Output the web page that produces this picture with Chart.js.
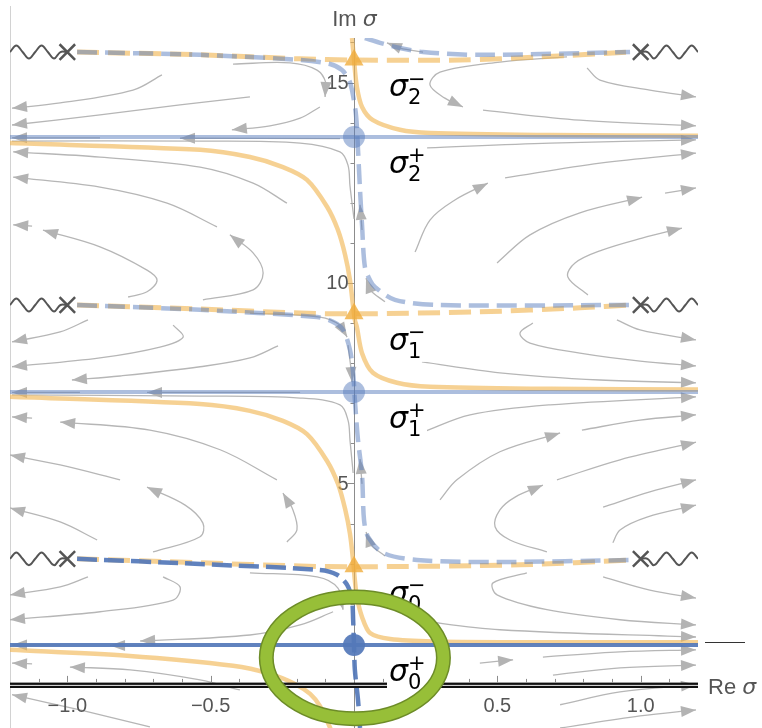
<!DOCTYPE html>
<html>
<head>
<meta charset="utf-8">
<script src="https://cdn.jsdelivr.net/npm/chart.js@4.4.0/dist/chart.umd.min.js"></script>
<style>
  html, body { margin: 0; padding: 0; background: #fff; }
  #wrap { width: 762px; height: 728px; }
</style>
</head>
<body>
<div id="wrap"><canvas id="flow" width="762" height="728"></canvas></div>
<script>
// axis ranges and ticks
const X_RANGE = [-1.2, 1.2];
const Y_RANGE = [-1.1, 16.11];
const X_TICKS = [-1.0, -0.5, 0.5, 1.0];
const X_TICK_LABELS = ['\u22121.0', '\u22120.5', '0.5', '1.0'];
const X_MINOR = [-1.1, -0.9, -0.8, -0.7, -0.6, -0.4, -0.3, -0.2, -0.1, 0.1, 0.2, 0.3, 0.4, 0.6, 0.7, 0.8, 0.9, 1.1];
const Y_TICKS = [5, 10, 15];
const Y_MINOR = [1, 2, 3, 4, 6, 7, 8, 9, 11, 12, 13, 14, 16];

// critical points on the imaginary axis and branch points
const SIGMA_PLUS = [0.97, 7.28, 13.64];
const SIGMA_MINUS = [2.92, 9.23, 15.56];
const BRANCH_IM = [3.12, 9.45, 15.76];
const BRANCH_RE = [-1.0, 1.0];
// branch cut wiggle (offsets from the branch point, left side)
const WIGGLE_DX = [-0.2, -0.178, -0.156, -0.134, -0.112, -0.09, -0.068, -0.046, -0.024, 0];
const WIGGLE_DY = [0, 0.16, 0, -0.16, 0, 0.16, 0, -0.16, 0, 0];

// steepest descent (orange) curves
const ORANGE_3 = [[-0.007, 16.11], [-0.003, 15.81], [0, 15.56], [0.010, 14.89], [0.028, 14.39], [0.066, 14.06], [0.160, 13.82], [0.265, 13.74], [0.684, 13.69], [1.2, 13.67]];
const ORANGE_2 = [[-1.2, 13.49], [-0.537, 13.32], [-0.363, 13.14], [-0.248, 12.89], [-0.164, 12.57], [-0.094, 11.90], [-0.056, 11.32], [-0.031, 10.70], [-0.014, 10.07], [-0.003, 9.40], [0.003, 9.08], [0.010, 8.90], [0.028, 8.25], [0.066, 7.76], [0.150, 7.51], [0.265, 7.41], [0.684, 7.36], [1.2, 7.34]];
const ORANGE_1 = [[-1.2, 7.16], [-0.537, 6.98], [-0.363, 6.81], [-0.248, 6.56], [-0.164, 6.23], [-0.094, 5.56], [-0.056, 4.99], [-0.031, 4.36], [-0.014, 3.74], [-0.003, 3.07], [0.003, 2.59], [0.010, 2.17], [0.028, 1.67], [0.056, 1.27], [0.126, 1.12], [0.276, 1.06], [0.684, 1.04], [1.2, 1.04]];
const ORANGE_0 = [[-1.2, 0.85], [-0.792, 0.70], [-0.422, 0.45], [-0.293, 0.25], [-0.206, 0], [-0.153, -0.25], [-0.119, -0.55], [-0.091, -0.97], [-0.073, -1.27]];

// orange dashed curves through sigma minus
const ODASH_2 = [[-0.966, 15.76], [-0.537, 15.69], [-0.188, 15.59], [0, 15.56], [0.370, 15.56], [0.649, 15.64], [0.963, 15.76]];
const ODASH_1 = [[-0.966, 9.45], [-0.537, 9.35], [-0.188, 9.25], [0, 9.23], [0.439, 9.28], [0.788, 9.38], [0.963, 9.45]];
const ODASH_0 = [[-0.966, 3.12], [-0.537, 3.02], [-0.188, 2.94], [0, 2.92], [0.579, 2.97], [0.963, 3.09]];

// blue dashed curves through sigma plus
const BDASH_TOP = [[0.038, 16.11], [0.091, 15.99], [0.160, 15.86], [0.241, 15.76], [0.439, 15.69], [0.963, 15.76]];
const BDASH_2 = [[-0.966, 15.76], [-0.537, 15.69], [-0.188, 15.56], [-0.084, 15.46], [-0.042, 15.31], [-0.017, 15.06], [-0.007, 14.81], [0.007, 14.19], [0.014, 13.32], [0.021, 12.32], [0.028, 11.45], [0.038, 10.40], [0.056, 10.07], [0.073, 9.90], [0.143, 9.58], [0.293, 9.45], [0.963, 9.45]];
const BDASH_1 = [[-0.966, 9.45], [-0.537, 9.33], [-0.129, 9.15], [-0.073, 9.03], [-0.038, 8.83], [-0.014, 8.33], [-0.003, 7.76], [0.003, 7.08], [0.014, 6.08], [0.028, 5.21], [0.035, 4.09], [0.049, 3.67], [0.101, 3.27], [0.220, 3.09], [0.509, 3.04], [0.963, 3.09]];
const BDASH_0 = [[-0.966, 3.12], [-0.537, 2.99], [-0.119, 2.84], [-0.059, 2.72], [-0.024, 2.47], [-0.007, 2.09], [-0.003, 1.60], [0, 0.97], [0.003, 0.35], [0.014, -0.40], [0.021, -1.10]];

// flow lines (gray), each ends with an arrow head
const STREAM_LEFT_2 = [
  [[-0.670, 15.19], [-0.771, 14.81], [-1.025, 14.49], [-1.193, 14.36]],
  [[-0.363, 14.64], [-0.607, 14.44], [-0.886, 14.19], [-1.193, 13.94]],
  [[-0.422, 15.46], [-0.223, 15.49], [-0.129, 15.31], [-0.098, 14.99], [-0.101, 14.64]],
  [[-0.119, 14.39], [-0.188, 14.11], [-0.293, 13.92], [-0.426, 13.82]],
  [[-0.049, 13.60], [-0.607, 13.61]],
  [[-0.886, 13.62], [-1.193, 13.62]],
  [[-0.234, 11.99], [-0.352, 12.49], [-0.537, 12.89], [-0.886, 13.14], [-1.189, 13.27]],
  [[-0.478, 11.40], [-0.652, 11.99], [-0.886, 12.39], [-1.189, 12.64]],
  [[-1.123, 11.42], [-1.189, 11.45]],
  [[-0.788, 9.65], [-0.722, 9.78], [-0.687, 10.07], [-0.722, 10.32], [-0.886, 10.90], [-1.085, 11.32]],
  [[-0.527, 9.58], [-0.352, 9.83], [-0.317, 10.25], [-0.352, 10.75], [-0.433, 11.20]]
];
const STREAM_LEFT_1 = [
  [[-0.928, 9.08], [-1.025, 8.78], [-1.193, 8.53]],
  [[-0.631, 8.95], [-0.596, 8.65], [-0.677, 8.40], [-0.886, 8.13], [-1.193, 7.91]],
  [[-0.265, 8.43], [-0.363, 8.13], [-0.537, 7.91], [-0.816, 7.68], [-0.984, 7.58]],
  [[-0.363, 9.25], [-0.119, 9.15], [-0.049, 8.95], [-0.024, 8.65]],
  [[-0.021, 8.45], [-0.010, 7.83], [-0.007, 7.53]],
  [[-0.188, 7.27], [-0.722, 7.27]],
  [[-0.956, 7.27], [-1.193, 7.27]],
  [[-1.123, 6.63], [-1.193, 6.66]],
  [[-0.269, 5.09], [-0.467, 5.84], [-0.712, 6.33], [-1.025, 6.53]],
  [[-0.816, 5.09], [-1.025, 5.46], [-1.2, 5.71]],
  [[-0.896, 3.59], [-1.025, 4.04], [-1.2, 4.39]],
  [[-0.701, 3.29], [-0.537, 3.67], [-0.527, 4.01], [-0.589, 4.46], [-0.722, 4.91]],
  [[-0.234, 3.54], [-0.199, 3.84], [-0.213, 4.34], [-0.248, 4.76]]
];
const STREAM_LEFT_0 = [
  [[-0.928, 2.67], [-1.025, 2.42], [-1.2, 2.22]],
  [[-0.666, 2.67], [-0.607, 2.42], [-0.631, 2.09], [-0.886, 1.80], [-1.2, 1.60]],
  [[-0.073, 1.80], [-0.188, 1.47], [-0.363, 1.22], [-0.746, 1.07]],
  [[-0.363, 2.77], [-0.129, 2.67], [-0.056, 2.39], [-0.038, 1.85]],
  [[-0.677, 0.96], [-0.851, 0.96]],
  [[-1.025, 0.97], [-1.193, 0.97]],
  [[-1.123, 0.50], [-1.193, 0.52]],
  [[-0.398, -0.15], [-0.537, 0.10], [-0.781, 0.35], [-0.991, 0.42]],
  [[-0.712, -1.07], [-0.956, -0.65], [-1.193, -0.27]]
];
const STREAM_RIGHT_2 = [
  [[0.241, 15.76], [0.160, 15.86], [0.115, 15.99]],
  [[0.743, 15.64], [0.509, 15.51], [0.300, 15.26], [0.265, 14.94], [0.317, 14.61], [0.380, 14.39]],
  [[0.813, 15.36], [0.858, 15.06], [1.032, 14.81], [1.193, 14.64]],
  [[0.450, 14.31], [0.788, 14.06], [1.193, 13.92]],
  [[0.255, 13.37], [0.684, 13.49], [1.193, 13.57]],
  [[0.527, 12.62], [0.858, 12.99], [1.193, 13.24]],
  [[0.213, 10.77], [0.265, 11.57], [0.352, 12.07], [0.467, 12.49]],
  [[0.499, 10.50], [0.614, 11.20], [0.788, 11.75], [1.005, 12.14]],
  [[1.085, 12.24], [1.193, 12.37]],
  [[0.816, 9.70], [0.746, 10.15], [0.771, 10.50], [0.865, 10.82], [1.005, 11.12], [1.144, 11.37]],
  [[0.108, 9.53], [0.056, 9.83], [0.042, 10.12]],
  [[0.028, 11.32], [0.021, 11.95]]
];
const STREAM_RIGHT_1 = [
  [[0.624, 9.00], [0.579, 8.75], [0.614, 8.50], [0.788, 8.25], [0.998, 8.05], [1.193, 7.93]],
  [[0.917, 9.08], [0.998, 8.83], [1.193, 8.58]],
  [[0.237, 8.03], [0.509, 7.76], [0.858, 7.58], [1.193, 7.51]],
  [[0.241, 6.28], [0.405, 6.71], [0.684, 6.96], [1.193, 7.16]],
  [[0.795, 6.33], [0.998, 6.58], [1.193, 6.71]],
  [[0.300, 4.59], [0.359, 5.09], [0.509, 5.79], [0.719, 6.26]],
  [[0.708, 5.09], [0.928, 5.59], [1.193, 6.03]],
  [[0.673, 3.29], [0.544, 3.59], [0.492, 3.92], [0.509, 4.34], [0.562, 4.66], [0.659, 4.96]],
  [[0.869, 4.41], [1.032, 4.79], [1.193, 5.09]],
  [[0.903, 3.52], [0.928, 3.84], [1.022, 4.16], [1.193, 4.46]],
  [[0.108, 3.19], [0.056, 3.49], [0.042, 3.79]],
  [[0.028, 4.99], [0.021, 5.61]]
];
const STREAM_RIGHT_0 = [
  [[0.869, 2.67], [1.032, 2.34], [1.193, 2.14]],
  [[0.603, 2.77], [0.485, 2.52], [0.499, 2.22], [0.673, 1.85], [0.928, 1.60], [1.193, 1.47]],
  [[0.206, 1.60], [0.509, 1.35], [1.193, 1.17]],
  [[0.659, 0.67], [0.928, 0.80], [1.193, 0.85]],
  [[0.439, 0.52], [0.555, 0.60]],
  [[0.694, 0.22], [0.928, 0.40], [1.193, 0.47]],
  [[0.719, -0.52], [0.928, -0.20], [1.193, -0.02]],
  [[0.719, -1.10], [0.998, -0.80], [1.193, -0.65]]
];
// flow lines hugging the axis (no arrow)
const STREAM_HUG = [
  [[-1.193, 13.54], [-0.537, 13.54], [-0.188, 13.49], [-0.049, 13.27], [-0.021, 12.94], [-0.014, 12.42], [0, 11.60]],
  [[-1.193, 7.21], [-0.537, 7.18], [-0.188, 7.13], [-0.049, 6.96], [-0.021, 6.58], [-0.014, 6.08], [-0.003, 5.26]]
];

// highlight ellipse around sigma_0^+
const RING_CENTER = [0.003, 0.65];
const RING_RADII = [0.309, 1.52];

const ORANGE = 'rgba(240,180,80,0.62)';
const ORANGE_MARK = 'rgba(240,172,60,0.8)';
const BLUE_LIGHT = 'rgba(90,125,190,0.5)';
const BLUE_DARK = 'rgba(84,120,185,0.93)';
const GRAY = '#b6b6b6';

const pts = arr => arr.map(p => ({ x: p[0], y: p[1] }));

function curve(points, color, width, order, extra) {
  return Object.assign({
    data: pts(points),
    showLine: true,
    borderColor: color,
    borderWidth: width,
    pointRadius: 0,
    pointHoverRadius: 0,
    tension: 0.35,
    fill: false,
    order: order
  }, extra || {});
}

const datasets = [];

// streamlines (bottom layer)
[STREAM_LEFT_2, STREAM_LEFT_1, STREAM_LEFT_0, STREAM_RIGHT_2, STREAM_RIGHT_1, STREAM_RIGHT_0].forEach(group => {
  group.forEach(s => datasets.push(curve(s, GRAY, 1.3, 90, { arrow: true })));
});
STREAM_HUG.forEach(s => datasets.push(curve(s, GRAY, 1.3, 90)));

// orange solid
[ORANGE_3, ORANGE_2, ORANGE_1, ORANGE_0].forEach(c => datasets.push(curve(c, ORANGE, 4.5, 80, { tension: 0.3 })));

// blue horizontal lines through sigma plus
SIGMA_PLUS.forEach((v, i) => {
  datasets.push(curve([[X_RANGE[0], v], [X_RANGE[1], v]], i === 0 ? BLUE_DARK : BLUE_LIGHT, 4, 70, { tension: 0 }));
});

// orange dashed
[ODASH_2, ODASH_1, ODASH_0].forEach(c => datasets.push(curve(c, ORANGE, 5, 60, { borderDash: [22, 9], tension: 0.3 })));

// blue dashed
[BDASH_TOP, BDASH_2, BDASH_1].forEach(c => datasets.push(curve(c, BLUE_LIGHT, 4.5, 50, { borderDash: [20, 8], tension: 0.3 })));
datasets.push(curve(BDASH_0, BLUE_DARK, 4.5, 50, { borderDash: [20, 7], tension: 0.3 }));

// branch cut wiggles, mirrored on the right
BRANCH_IM.forEach(im => {
  BRANCH_RE.forEach(re => {
    const w = WIGGLE_DX.map((dx, k) => [re + (re < 0 ? dx : -dx), im + WIGGLE_DY[k]]);
    datasets.push(curve(w, '#555', 2, 40, { tension: 0.4 }));
  });
});

// branch point crosses
datasets.push({
  data: pts(BRANCH_IM.flatMap(im => BRANCH_RE.map(re => [re, im]))),
  pointStyle: 'crossRot', pointRadius: 11, borderColor: '#555', borderWidth: 2.5,
  backgroundColor: '#555', showLine: false, order: 30
});
// sigma minus triangles
datasets.push({
  data: pts(SIGMA_MINUS.map(v => [0, v])),
  pointStyle: 'triangle', pointRadius: 11, backgroundColor: ORANGE_MARK,
  borderWidth: 0, showLine: false, order: 30
});
// sigma plus circles
datasets.push({
  data: pts(SIGMA_PLUS.map(v => [0, v])),
  pointStyle: 'circle', pointRadius: 11,
  backgroundColor: SIGMA_PLUS.map((v, i) => i === 0 ? BLUE_DARK : BLUE_LIGHT),
  borderWidth: 0, showLine: false, order: 30
});

// arrow heads at the end of the flow lines
const arrowHeads = {
  id: 'arrowHeads',
  afterDatasetDraw(chart, args) {
    const ds = chart.data.datasets[args.index];
    if (!ds.arrow) return;
    const el = args.meta.data;
    const b = el[el.length - 1];
    const a = el[el.length - 2];
    let dx = b.x - (b.cp1x !== undefined ? b.cp1x : a.x);
    let dy = b.y - (b.cp1y !== undefined ? b.cp1y : a.y);
    if (Math.hypot(dx, dy) < 0.5) { dx = b.x - a.x; dy = b.y - a.y; }
    const ang = Math.atan2(dy, dx);
    const ctx = chart.ctx;
    ctx.save();
    ctx.translate(b.x, b.y);
    ctx.rotate(ang);
    ctx.fillStyle = '#b3b3b3';
    ctx.beginPath();
    ctx.moveTo(0, 0);
    ctx.lineTo(-15, -5.5);
    ctx.lineTo(-15, 5.5);
    ctx.closePath();
    ctx.fill();
    ctx.restore();
  }
};

function mixedText(ctx, parts, x, y) {
  let cx = x;
  parts.forEach(p => {
    ctx.font = p[1];
    ctx.fillText(p[0], cx, y);
    cx += ctx.measureText(p[0]).width;
  });
}
function mixedWidth(ctx, parts) {
  let w = 0;
  parts.forEach(p => { ctx.font = p[1]; w += ctx.measureText(p[0]).width; });
  return w;
}

const TICK_FONT = '20px "Liberation Sans", Arial, sans-serif';
const AXIS_FONT = '22px "Liberation Sans", Arial, sans-serif';
const SIG_FONT = 'italic 22px "DejaVu Sans", sans-serif';

const axesAndLabels = {
  id: 'axesAndLabels',
  beforeDatasetsDraw(chart) {
    const { ctx, chartArea: a, scales: { x, y } } = chart;
    const x0 = Math.round(x.getPixelForValue(0)) + 0.5;
    ctx.save();
    ctx.strokeStyle = '#d2d2d2';
    ctx.lineWidth = 1;
    ctx.beginPath();
    ctx.moveTo(a.left + 0.5, 6);
    ctx.lineTo(a.left + 0.5, a.bottom);
    ctx.stroke();

    ctx.strokeStyle = '#8c8c8c';
    ctx.beginPath();
    ctx.moveTo(x0, a.top);
    ctx.lineTo(x0, a.bottom);
    ctx.stroke();
    Y_MINOR.forEach(v => {
      const py = Math.round(y.getPixelForValue(v)) + 0.5;
      ctx.beginPath(); ctx.moveTo(x0 - 4, py); ctx.lineTo(x0, py); ctx.stroke();
    });
    Y_TICKS.forEach(v => {
      const py = Math.round(y.getPixelForValue(v)) + 0.5;
      ctx.beginPath(); ctx.moveTo(x0 - 7, py); ctx.lineTo(x0, py); ctx.stroke();
    });
    ctx.fillStyle = '#555';
    ctx.font = TICK_FONT;
    ctx.textAlign = 'right';
    ctx.textBaseline = 'middle';
    Y_TICKS.forEach(v => ctx.fillText(String(v), x0 - 6, y.getPixelForValue(v) + 1));

    ctx.textAlign = 'left';
    ctx.textBaseline = 'alphabetic';
    const imParts = [['Im ', AXIS_FONT], ['\u03c3', SIG_FONT]];
    mixedText(ctx, imParts, x0 - mixedWidth(ctx, imParts) / 2, 26);
    ctx.restore();
  },
  afterDatasetsDraw(chart) {
    const { ctx, chartArea: a, scales: { x, y } } = chart;
    const x0 = x.getPixelForValue(0);
    const y0 = y.getPixelForValue(0);
    ctx.save();
    // real axis: black double rule
    ctx.fillStyle = '#111';
    ctx.fillRect(a.left, y0 - 1.3, a.right - a.left, 5.4);
    ctx.fillStyle = '#fff';
    ctx.fillRect(a.left, y0 + 1.0, a.right - a.left, 0.9);
    ctx.strokeStyle = '#8c8c8c';
    ctx.lineWidth = 1;
    X_MINOR.forEach(v => {
      const px = Math.round(x.getPixelForValue(v)) + 0.5;
      ctx.beginPath(); ctx.moveTo(px, y0 - 1.3); ctx.lineTo(px, y0 - 5); ctx.stroke();
    });
    X_TICKS.forEach(v => {
      const px = Math.round(x.getPixelForValue(v)) + 0.5;
      ctx.beginPath(); ctx.moveTo(px, y0 - 1.3); ctx.lineTo(px, y0 - 8); ctx.stroke();
    });
    ctx.fillStyle = '#555';
    ctx.font = TICK_FONT;
    ctx.textAlign = 'center';
    ctx.textBaseline = 'alphabetic';
    X_TICKS.forEach((v, i) => ctx.fillText(X_TICK_LABELS[i], x.getPixelForValue(v), y0 + 28));

    ctx.textAlign = 'left';
    mixedText(ctx, [['Re ', AXIS_FONT], ['\u03c3', SIG_FONT]], a.right + 10, y0 + 10);

    // short marker at the right end of sigma_0^+
    const ps0 = y.getPixelForValue(SIGMA_PLUS[0]);
    ctx.strokeStyle = '#333';
    ctx.beginPath();
    ctx.moveTo(a.right + 7, Math.round(ps0) - 2.5);
    ctx.lineTo(a.right + 47, Math.round(ps0) - 2.5);
    ctx.stroke();

    // sigma labels with white boxes
    const lx = x0 + 35;
    const drawSigma = (level, sub, sup) => {
      const py = y.getPixelForValue(level);
      ctx.fillStyle = '#fff';
      ctx.fillRect(lx - 2, py + 12, 40, 36);
      ctx.fillStyle = '#000';
      ctx.textAlign = 'left';
      ctx.textBaseline = 'alphabetic';
      ctx.font = 'italic 30px "DejaVu Sans", sans-serif';
      ctx.fillText('\u03c3', lx, py + 36);
      ctx.font = '21px "DejaVu Sans", sans-serif';
      ctx.fillText(sub, lx + 19, py + 44);
      ctx.textBaseline = 'middle';
      ctx.fillText(sup, lx + 19, py + 20);
    };
    SIGMA_MINUS.forEach((v, i) => drawSigma(v, String(i), '\u2212'));
    SIGMA_PLUS.forEach((v, i) => drawSigma(v, String(i), '+'));

    // highlight ring
    const cx = x.getPixelForValue(RING_CENTER[0]);
    const cy = y.getPixelForValue(RING_CENTER[1]);
    const rx = x.getPixelForValue(RING_CENTER[0] + RING_RADII[0]) - cx;
    const ry = cy - y.getPixelForValue(RING_CENTER[1] + RING_RADII[1]);
    ctx.beginPath();
    ctx.ellipse(cx, cy, rx, ry, 0, 0, Math.PI * 2);
    ctx.strokeStyle = '#6d8c28';
    ctx.lineWidth = 15;
    ctx.stroke();
    ctx.strokeStyle = '#97bf38';
    ctx.lineWidth = 12;
    ctx.stroke();
    ctx.restore();
  }
};

new Chart(document.getElementById('flow').getContext('2d'), {
  type: 'scatter',
  data: { datasets: datasets },
  options: {
    responsive: false,
    devicePixelRatio: 1,
    animation: false,
    layout: { autoPadding: false, padding: { left: 10, right: 64, top: 38, bottom: 0 } },
    scales: {
      x: { type: 'linear', min: X_RANGE[0], max: X_RANGE[1], display: false },
      y: { type: 'linear', min: Y_RANGE[0], max: Y_RANGE[1], display: false }
    },
    plugins: { legend: { display: false }, tooltip: { enabled: false } },
    events: []
  },
  plugins: [arrowHeads, axesAndLabels]
});
</script>
</body>
</html>
